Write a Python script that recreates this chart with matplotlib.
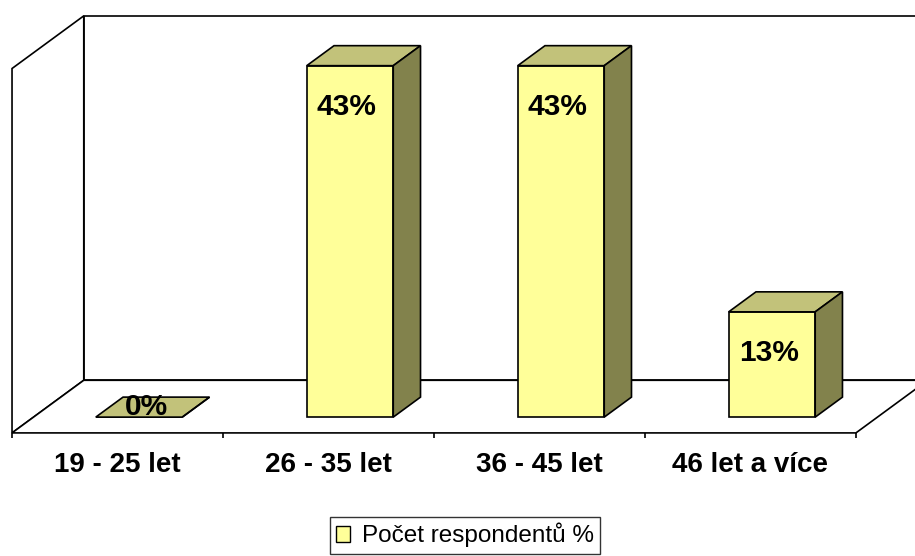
import matplotlib.pyplot as plt
from matplotlib.patches import Polygon, Patch

# data
categories = ["19 - 25 let", "26 - 35 let", "36 - 45 let", "46 let a více"]
values = [0, 43.4, 43.4, 13.0]
series_name = "Počet respondentů %"

FRONT = "#FFFF99"
TOP = "#C2C27A"
SIDE = "#82824C"

Y_MAX = 45          # height of the walls (percent)
DEPTH_X = 0.34      # oblique depth offset, category units
DEPTH_Y = 6.5       # oblique depth offset, percent units
BAR_W = 0.41
BAR_D0, BAR_D1 = 0.30, 0.68   # bar position inside the floor depth

plt.rcParams["font.family"] = ["Liberation Sans", "DejaVu Sans"]


def proj(u, v, d):
    return (u + DEPTH_X * d, v + DEPTH_Y * d)


def face(ax, pts, color, z=2):
    ax.add_patch(Polygon([proj(*p) for p in pts], closed=True, facecolor=color,
                         edgecolor="black", linewidth=1.2, joinstyle="miter", zorder=z))


fig = plt.figure(figsize=(9.15, 5.56), dpi=100)
ax = fig.add_axes([0, 0, 1, 1])
ax.set_xlim(-0.057, 4.28)
ax.set_ylim(-15.2, 53.46)
ax.axis("off")

n = len(categories)

# walls and floor
face(ax, [(0, 0, 1), (n + 1, 0, 1), (n + 1, Y_MAX, 1), (0, Y_MAX, 1)], "white", 1)
face(ax, [(0, 0, 0), (0, Y_MAX, 0), (0, Y_MAX, 1), (0, 0, 1)], "white", 1)
face(ax, [(0, 0, 0), (n, 0, 0), (n, 0, 1), (0, 0, 1)], "white", 1)

# tick marks under the front edge of the floor
ax.vlines(range(n + 1), -0.6, 0, color="black", linewidth=1.2, zorder=1)

for i, (cat, val) in enumerate(zip(categories, values)):
    x0 = i + 0.5 - BAR_W / 2
    x1 = i + 0.5 + BAR_W / 2
    face(ax, [(x0, 0, BAR_D0), (x1, 0, BAR_D0), (x1, val, BAR_D0), (x0, val, BAR_D0)], FRONT)
    face(ax, [(x0, val, BAR_D0), (x1, val, BAR_D0), (x1, val, BAR_D1), (x0, val, BAR_D1)], TOP)
    face(ax, [(x1, 0, BAR_D0), (x1, 0, BAR_D1), (x1, val, BAR_D1), (x1, val, BAR_D0)], SIDE)

    if val > 0:
        lx, ly = proj(i + 0.485, val - 5.1, BAR_D0)
    else:
        lx, ly = proj(i + 0.47, val, (BAR_D0 + BAR_D1) / 2)
    ax.text(lx, ly, f"{val:.0f}%", ha="center", va="center", fontsize=21.5,
            fontweight="bold", zorder=5)

    ax.text(i + 0.5, -4.0, cat, ha="center", va="center", fontsize=20,
            fontweight="bold")

handle = Patch(facecolor=FRONT, edgecolor="black", linewidth=1.0)
leg = fig.legend([handle], [series_name], loc="lower center",
                 bbox_to_anchor=(465 / 915, 0.0), fontsize=17.5, frameon=True,
                 fancybox=False, handlelength=0.6, handleheight=0.6,
                 handletextpad=0.5, borderpad=0.25, borderaxespad=0.1)
leg.get_frame().set_edgecolor("black")
leg.get_frame().set_linewidth(1.0)

fig.savefig("out.png", dpi=100)
